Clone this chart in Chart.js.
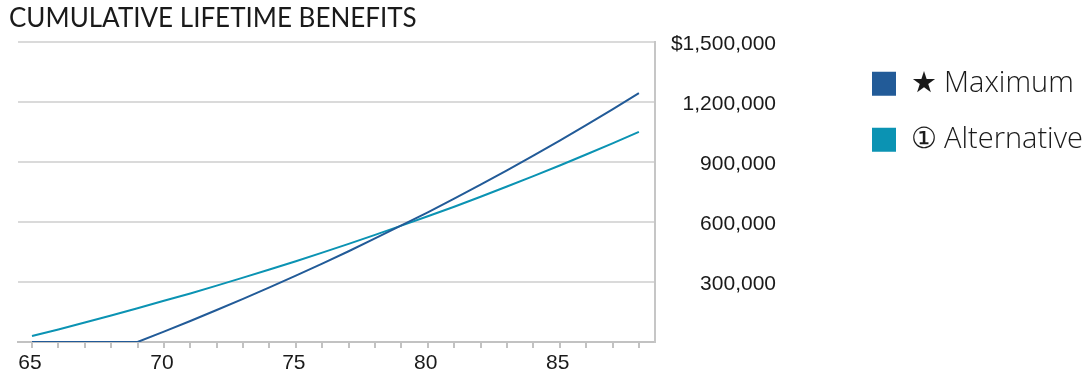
<!DOCTYPE html>
<html>
<head>
<meta charset="utf-8">
<script src="https://cdn.jsdelivr.net/npm/chart.js@4"></script>
<style>
  html, body { margin: 0; padding: 0; background: #ffffff; }
  #wrap { width: 1086px; height: 377px; }
</style>
</head>
<body>
<div id="wrap"><canvas id="c" width="1086" height="377"></canvas></div>
<script>
// Ages along the horizontal axis
const ages = [65, 66, 67, 68, 69, 70, 71, 72, 73, 74, 75, 76, 77, 78, 79, 80, 81, 82, 83, 84, 85, 86, 87, 88];

// Cumulative benefits (USD) by age
const maximumBenefits = [0, 0, 0, 0, 0, 52000, 105000, 160000, 216000, 273000, 332000, 392000,
  454000, 518000, 583000, 649000, 717000, 787000, 859000, 933000, 1008000, 1085000, 1164000, 1245000];
const alternativeBenefits = [30000, 63000, 98000, 133000, 169000, 206000, 243000, 282000, 322000, 363000, 404000, 447000,
  491000, 536000, 582000, 629000, 677000, 727000, 778000, 830000, 883000, 938000, 994000, 1051000];

// Axis labelling
const labeledAges = [65, 70, 75, 80, 85];
const yTickValues = [300000, 600000, 900000, 1200000, 1500000];
const yTickLabels = ['300,000', '600,000', '900,000', '1,200,000', '$1,500,000'];

// Series names and colours
const seriesNames = ['\u2605 Maximum', '\u2460 Alternative'];
const seriesColors = ['#225b98', '#0b93b3'];

const axisFont = { family: "'Liberation Sans', Arial, Helvetica, sans-serif", size: 21 };
const textColor = '#1a1a1a';

const toPoints = values => ages.map((age, i) => ({ x: age, y: values[i] }));

new Chart(document.getElementById('c'), {
  type: 'line',
  data: {
    datasets: [
      {
        label: seriesNames[0],
        data: toPoints(maximumBenefits),
        borderColor: seriesColors[0],
        backgroundColor: seriesColors[0],
        borderWidth: 2,
        pointRadius: 0,
        tension: 0,
        yAxisID: 'y'
      },
      {
        label: seriesNames[1],
        data: toPoints(alternativeBenefits),
        borderColor: seriesColors[1],
        backgroundColor: seriesColors[1],
        borderWidth: 2,
        pointRadius: 0,
        tension: 0,
        yAxisID: 'y'
      }
    ]
  },
  options: {
    responsive: false,
    animation: false,
    devicePixelRatio: 1,
    layout: { padding: { left: 9, right: 0, top: 0, bottom: 0 } },
    plugins: {
      title: {
        display: true,
        text: 'CUMULATIVE LIFETIME BENEFITS',
        align: 'start',
        color: textColor,
        font: { family: "Lato, 'Open Sans', sans-serif", size: 26, weight: '400' },
        padding: { top: 3, bottom: 8 }
      },
      legend: {
        display: true,
        position: 'right',
        align: 'start',
        fullSize: false,
        maxWidth: 241,
        labels: {
          boxWidth: 24,
          boxHeight: 24,
          padding: 27,
          color: textColor,
          font: { family: "'Open Sans', sans-serif", size: 29, weight: '300' },
          generateLabels(chart) {
            return Chart.defaults.plugins.legend.labels.generateLabels(chart)
              .map(item => ({ ...item, lineWidth: 0 }));
          }
        }
      },
      tooltip: { enabled: false }
    },
    scales: {
      x: {
        type: 'linear',
        min: 64.47,
        max: 88.61,
        grid: {
          drawOnChartArea: false,
          drawTicks: true,
          tickLength: 6,
          color: '#c2c2c2',
          lineWidth: 2
        },
        border: { display: true, color: '#c2c2c2', width: 2 },
        ticks: {
          stepSize: 1,
          includeBounds: false,
          autoSkip: false,
          maxRotation: 0,
          padding: 3,
          labelOffset: -2,
          color: textColor,
          font: axisFont,
          callback(value) {
            return labeledAges.includes(value) ? String(value) : '';
          }
        },
        afterFit(scale) { scale.height = 35; }
      },
      y: {
        position: 'right',
        min: 0,
        max: 1500000,
        grid: { color: '#dadada', lineWidth: 2, drawTicks: false },
        border: { display: true, color: '#c6c6c6', width: 2 },
        ticks: {
          stepSize: 300000,
          padding: 15,
          crossAlign: 'far',
          labelOffset: 2,
          color: textColor,
          font: axisFont,
          callback(value) {
            const i = yTickValues.indexOf(value);
            return i >= 0 ? yTickLabels[i] : '';
          }
        },
        afterFit(scale) { scale.width = 121; }
      },
      legendGap: {
        position: 'right',
        weight: 1,
        display: true,
        grid: { display: false, drawTicks: false },
        border: { display: false },
        ticks: { display: false },
        afterFit(scale) { scale.width = 69; }
      },
      gutter: {
        position: 'left',
        display: true,
        grid: { display: false, drawTicks: false },
        border: { display: false },
        ticks: { display: false },
        afterFit(scale) { scale.width = 9; }
      }
    }
  }
});
</script>
</body>
</html>
